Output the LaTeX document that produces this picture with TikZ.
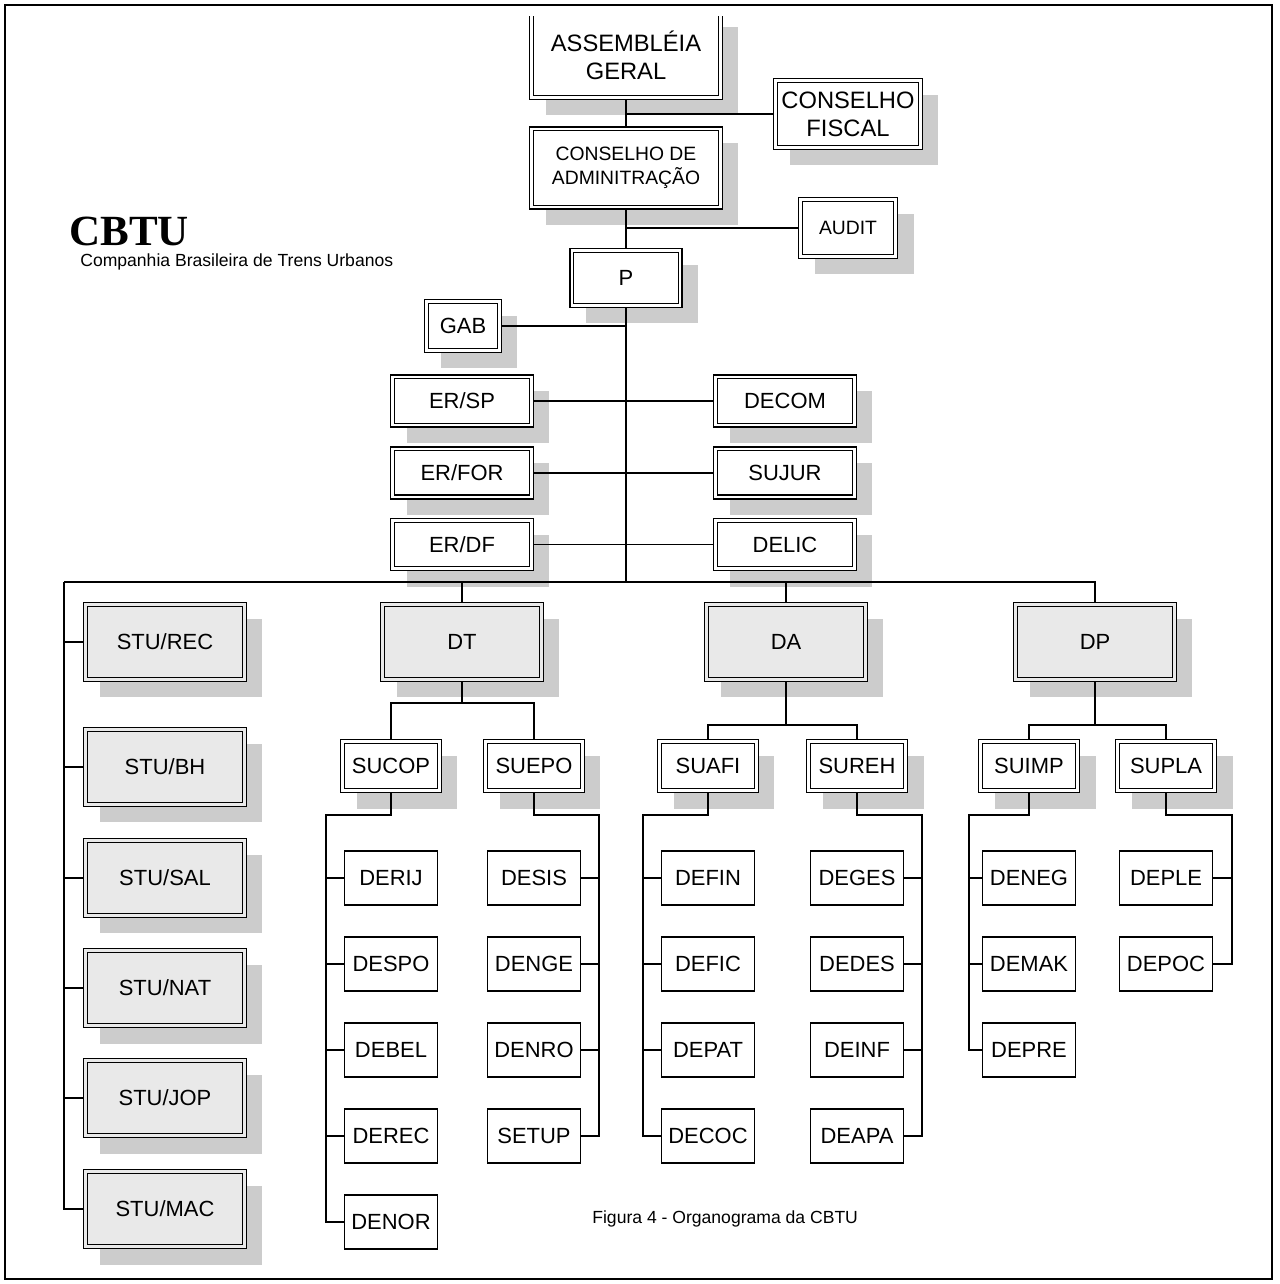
\documentclass[tikz,border=0pt]{standalone}
\usepackage{fontspec}
\setmainfont{Liberation Sans}
\newfontfamily\cbtufont{Liberation Serif}
\usetikzlibrary{positioning,shadows}
\definecolor{boxgray}{HTML}{E9E9E9}
\definecolor{shadowgray}{HTML}{CCCCCC}

\begin{document}
\begin{tikzpicture}[x=0.02cm,y=-0.02cm,node distance=0.37cm,
  unit/.style={draw, line width=0.8pt, fill=white,
    inner sep=0pt, align=center, font=\fontsize{12.5}{15}\selectfont,
    drop shadow={shadow xshift=0.32cm, shadow yshift=-0.32cm, fill=shadowgray, opacity=1},
    path picture={\draw[line width=0.6pt]
      ([shift={(2.2pt,2.2pt)}]path picture bounding box.south west) rectangle
      ([shift={(-2.2pt,-2.2pt)}]path picture bounding box.north east);}},
  board/.style={unit, minimum width=3.86cm},
  staff/.style={unit, minimum width=2.86cm, minimum height=1.04cm},
  regional/.style={unit, fill=boxgray, minimum width=3.26cm, minimum height=1.58cm},
  sub/.style={unit, minimum width=2.02cm, minimum height=1.06cm},
  leaf/.style={draw, line width=0.6pt, inner sep=0pt, minimum width=1.86cm,
    minimum height=1.08cm, font=\fontsize{12.5}{15}\selectfont},
  trunk/.style={line width=1.1pt},
  link/.style={line width=0.7pt}]
\useasboundingbox (0,0) rectangle (1279,1284);

% conselhos
\begin{scope}
  \clip (0,17) rectangle (1279,1284);
  \node[board, minimum height=1.78cm, font=\fontsize{13.5}{16}\selectfont] (assembleia) at (626,55) {ASSEMBLÉIA\\GERAL};
\end{scope}
\node[unit, minimum width=2.98cm, minimum height=1.42cm, font=\fontsize{13.5}{16}\selectfont] (fiscal) at (848,114) {CONSELHO\\FISCAL};
\node[board, minimum height=1.64cm, font=\fontsize{11}{14}\selectfont] (conselho) at (626,168) {CONSELHO DE\\ADMINITRAÇÃO};
\node[unit, minimum width=1.98cm, minimum height=1.22cm, font=\fontsize{11}{14}\selectfont] (audit) at (848,228) {AUDIT};
\node[unit, minimum width=2.24cm, minimum height=1.18cm] (p) at (626,278) {P};
\node[unit, minimum width=1.54cm, minimum height=1.06cm] (gab) at (463,326) {GAB};

% escritorios e departamentos da presidencia
\node[staff] (ersp) at (462,401) {ER/SP};
\node[staff, below=of ersp] (erfor) {ER/FOR};
\node[staff, below=of erfor] (erdf) {ER/DF};
\node[staff] (decom) at (785,401) {DECOM};
\node[staff, below=of decom] (sujur) {SUJUR};
\node[staff, below=of sujur] (delic) {DELIC};

% superintendencias regionais
\foreach \nome/\txt/\y in {sturec/STU\slash REC/642, stubh/STU\slash BH/767, stusal/STU\slash SAL/878,
    stunat/STU\slash NAT/988, stujop/STU\slash JOP/1098, stumac/STU\slash MAC/1209}
  \node[regional] (\nome) at (165,\y) {\txt};

% diretorias
\node[regional] (dt) at (462,642) {DT};
\node[regional] (da) at (786,642) {DA};
\node[regional] (dp) at (1095,642) {DP};

\node[sub] (sucop) at (391,766) {SUCOP};
\node[sub] (suepo) at (534,766) {SUEPO};
\node[sub] (suafi) at (708,766) {SUAFI};
\node[sub] (sureh) at (857,766) {SUREH};
\node[sub] (suimp) at (1029,766) {SUIMP};
\node[sub] (supla) at (1166,766) {SUPLA};

\foreach \nome/\txt [count=\i] in {derij/DERIJ, despo/DESPO, debel/DEBEL, derec/DEREC, denor/DENOR}
  \node[leaf] (\nome) at (391,{792+86*\i}) {\txt};
\foreach \nome/\txt [count=\i] in {desis/DESIS, denge/DENGE, denro/DENRO, setup/SETUP}
  \node[leaf] (\nome) at (534,{792+86*\i}) {\txt};
\foreach \nome/\txt [count=\i] in {defin/DEFIN, defic/DEFIC, depat/DEPAT, decoc/DECOC}
  \node[leaf] (\nome) at (708,{792+86*\i}) {\txt};
\foreach \nome/\txt [count=\i] in {deges/DEGES, dedes/DEDES, deinf/DEINF, deapa/DEAPA}
  \node[leaf] (\nome) at (857,{792+86*\i}) {\txt};
\foreach \nome/\txt [count=\i] in {deneg/DENEG, demak/DEMAK, depre/DEPRE}
  \node[leaf] (\nome) at (1029,{792+86*\i}) {\txt};
\foreach \nome/\txt [count=\i] in {deple/DEPLE, depoc/DEPOC}
  \node[leaf] (\nome) at (1166,{792+86*\i}) {\txt};

% titulo e legenda
\node[anchor=base west, inner sep=0pt, font=\cbtufont\bfseries\fontsize{24.5}{26}\selectfont] (cbtu) at (69,245) {CBTU};
\node[anchor=west, inner sep=0pt, font=\fontsize{10}{12}\selectfont] (cbtunome) at (80,262) {Companhia Brasileira de Trens Urbanos};
\node[anchor=west, inner sep=0pt, font=\fontsize{10}{12}\selectfont] (legenda) at (592,1219) {Figura 4 - Organograma da CBTU};

% ligacoes
\coordinate (bus) at (626,582);
\coordinate (stubus) at (64,582);
\coordinate (dtbar) at (462,703);
\coordinate (dabar) at (786,725);
\coordinate (dpbar) at (1095,725);
\coordinate (sucopspine) at (326,815);
\coordinate (suepospine) at (599,815);
\coordinate (suafispine) at (643,815);
\coordinate (surehspine) at (922,815);
\coordinate (suimpspine) at (969,815);
\coordinate (suplaspine) at (1232,815);

\begin{scope}[link]
\draw (assembleia.south) -- (conselho.north);
\draw (fiscal.west) -- (fiscal.west -| assembleia.south);
\draw (conselho) -- (p);
\draw (audit.west) -- (audit.west -| p.north);
\draw (gab.east) -- (gab.east -| p.south);
\draw (ersp) -- (decom);
\draw (erfor) -- (sujur);
\draw (erdf) -- (delic);
\draw[trunk] (p.south) -- (bus);
\draw (stubus) -| (dp.north);
\draw (dt.north) -- (dt.north |- bus);
\draw (da.north) -- (da.north |- bus);
\draw (stubus) |- (stumac.west);
\foreach \nome in {sturec,stubh,stusal,stunat,stujop}
  \draw (stubus |- \nome.west) -- (\nome.west);

\draw (dt.south) -- (dtbar);
\draw (sucop.north) |- (dtbar) -| (suepo.north);
\draw (da.south) -- (dabar);
\draw (suafi.north) |- (dabar) -| (sureh.north);
\draw (dp.south) -- (dpbar);
\draw (suimp.north) |- (dpbar) -| (supla.north);

\draw (sucop.south) |- (sucopspine) |- (denor.west);
\foreach \nome in {derij,despo,debel,derec}
  \draw (sucopspine |- \nome.west) -- (\nome.west);
\draw (suepo.south) |- (suepospine) |- (setup.east);
\foreach \nome in {desis,denge,denro}
  \draw (suepospine |- \nome.east) -- (\nome.east);
\draw (suafi.south) |- (suafispine) |- (decoc.west);
\foreach \nome in {defin,defic,depat}
  \draw (suafispine |- \nome.west) -- (\nome.west);
\draw (sureh.south) |- (surehspine) |- (deapa.east);
\foreach \nome in {deges,dedes,deinf}
  \draw (surehspine |- \nome.east) -- (\nome.east);
\draw (suimp.south) |- (suimpspine) |- (depre.west);
\foreach \nome in {deneg,demak}
  \draw (suimpspine |- \nome.west) -- (\nome.west);
\draw (supla.south) |- (suplaspine) |- (depoc.east);
\draw (suplaspine |- deple.east) -- (deple.east);
\end{scope}

% moldura
\draw[line width=1.2pt] (5,5) rectangle (1272,1279);
\end{tikzpicture}
\end{document}
